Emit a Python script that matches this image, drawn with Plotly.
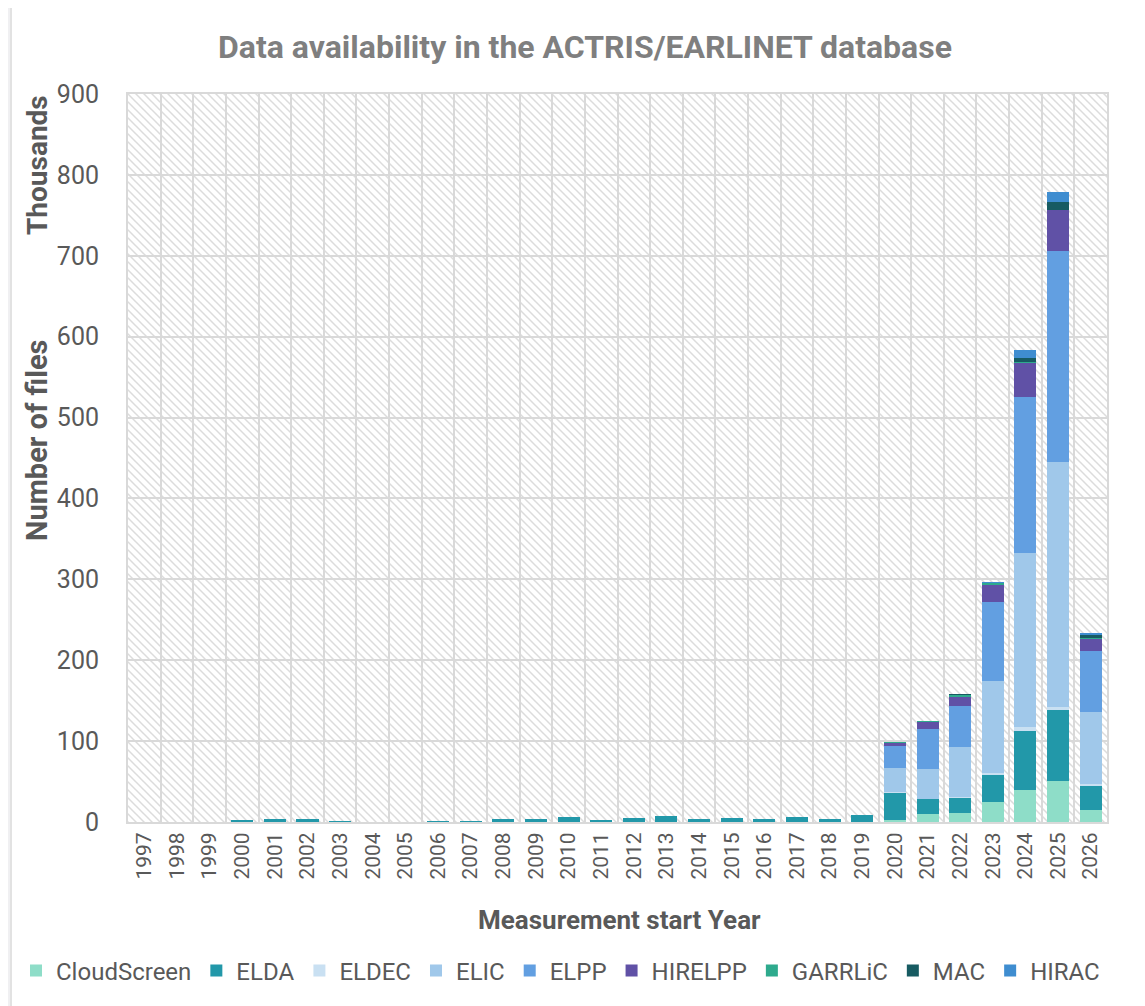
import base64
import plotly.graph_objects as go

years = ["1997", "1998", "1999", "2000", "2001", "2002", "2003", "2004", "2005", "2006",
         "2007", "2008", "2009", "2010", "2011", "2012", "2013", "2014", "2015", "2016",
         "2017", "2018", "2019", "2020", "2021", "2022", "2023", "2024", "2025", "2026"]

# values in thousands of files
cloudscreen = [0] * 23 + [3, 9.5, 11.5, 24.3, 39.5, 50.3, 14.8]
elda = [0, 0, 0, 1.5, 3.8, 3.8, 0.2, 0, 0, 0.3, 0.8, 3.3, 3.3, 6.6, 2.5, 5, 7, 3.3, 5, 4,
        6.6, 3.3, 8.6, 34, 19, 18.5, 34.7, 73.5, 88.5, 30.5]
eldec = [0] * 23 + [0.5, 0.5, 1, 1, 4, 3.7, 1.7]
elic = [0] * 23 + [29, 37, 62, 114.7, 215, 303, 89]
elpp = [0] * 23 + [27.5, 49, 50, 97.3, 193.7, 260.4, 75]
hirelpp = [0] * 23 + [4.5, 9, 11.5, 21.3, 42, 50.7, 15.7]
garrlic = [0] * 23 + [0.3, 0.5, 2.5, 2.5, 1.3, 0.3, 2]
mac = [0] * 23 + [0, 0, 0.5, 0.3, 5, 9, 2]
hirac = [0] * 23 + [0, 0, 0, 0.3, 9.4, 12.5, 2.7]

series = [
    ("CloudScreen", cloudscreen, "#8EDDC8"),
    ("ELDA", elda, "#2298A9"),
    ("ELDEC", eldec, "#C9E0F2"),
    ("ELIC", elic, "#A0C8EA"),
    ("ELPP", elpp, "#629FE1"),
    ("HIRELPP", hirelpp, "#6051A6"),
    ("GARRLiC", garrlic, "#2EAA8D"),
    ("MAC", mac, "#175B62"),
    ("HIRAC", hirac, "#3F8DD0"),
]

OFF = 8  # page body margin
W, H = 1145 - OFF, 1006 - OFF
ML, MR, MT, MB = 128 - OFF, 38, 94 - OFF, 184
PW, PH = W - ML - MR, H - MT - MB

fig = go.Figure()
for name, vals, col in series:
    fig.add_trace(go.Bar(x=years, y=vals, name=name, marker=dict(color=col, line=dict(width=0))))

svg = (
    f'<svg xmlns="http://www.w3.org/2000/svg" width="{PW}" height="{PH}">'
    '<defs><pattern id="h" width="8" height="8" patternUnits="userSpaceOnUse">'
    '<path d="M0,0 L8,8 M-2,6 L2,10 M6,-2 L10,2" stroke="#dcdcdc" stroke-width="1.5"/>'
    '</pattern></defs><rect width="100%" height="100%" fill="white"/>'
    '<rect width="100%" height="100%" fill="url(#h)"/></svg>'
)
uri = "data:image/svg+xml;base64," + base64.b64encode(svg.encode()).decode()

fig.add_layout_image(dict(source=uri, xref="paper", yref="paper", x=0, y=1, sizex=1, sizey=1,
                          sizing="stretch", xanchor="left", yanchor="top", layer="below"))

font_main = "Roboto, 'DejaVu Sans Condensed', sans-serif"
grey = "#595959"
grid = "#d9d9d9"

# helpers: page pixel -> paper coordinates
def px_x(p):
    return (p - OFF - ML) / PW

def px_y(p):
    return (H - MB - (p - OFF)) / PH

fig.update_layout(
    width=W, height=H,
    margin=dict(l=ML, r=MR, t=MT, b=MB, autoexpand=False),
    barmode="stack", bargap=0.325,
    paper_bgcolor="white", plot_bgcolor="rgba(0,0,0,0)",
    title=dict(text="<b>Data availability in the ACTRIS/EARLINET database</b>",
               x=(585 - OFF) / W, xanchor="center", y=1 - (47 - OFF) / H, yanchor="middle",
               font=dict(family="Roboto, sans-serif", size=32, color="#7f7f7f")),
    font=dict(family=font_main, color=grey),
    showlegend=True,
    legend=dict(orientation="h", x=px_x(16), xanchor="left", y=px_y(971), yanchor="middle",
                traceorder="normal", font=dict(size=24, color=grey, family=font_main),
                itemwidth=30, tracegroupgap=0, bgcolor="rgba(0,0,0,0)"),
    xaxis=dict(type="category", tickson="boundaries", showgrid=True, gridcolor=grid, gridwidth=2,
               tickangle=-90, tickfont=dict(size=21, color=grey), ticks="",
               showline=True, linecolor=grid, linewidth=2, mirror=True),
    yaxis=dict(range=[0, 900], dtick=100, showgrid=True, gridcolor=grid, gridwidth=2,
               tickfont=dict(size=25, color=grey), ticks="", ticklabelstandoff=22,
               showline=True, linecolor=grid, linewidth=2, mirror=True, zeroline=False),
    annotations=[
        dict(text="<b>Thousands</b>", xref="paper", yref="paper", x=px_x(37), y=px_y(165),
             xanchor="center", yanchor="middle",
             textangle=-90, showarrow=False, font=dict(size=28, color=grey, family=font_main)),
        dict(text="<b>Number of files</b>", xref="paper", yref="paper", x=px_x(37), y=px_y(440),
             xanchor="center", yanchor="middle",
             textangle=-90, showarrow=False, font=dict(size=29, color=grey, family=font_main)),
        dict(text="<b>Measurement start Year</b>", xref="paper", yref="paper", x=px_x(619),
             y=px_y(920), xanchor="center", yanchor="middle",
             showarrow=False, font=dict(size=26, color=grey, family=font_main)),
    ],
    shapes=[
        dict(type="rect", xref="paper", yref="paper", x0=px_x(8), x1=px_x(10), y0=px_y(1006), y1=px_y(0),
             fillcolor="#f0f0f2", line=dict(width=0), layer="below"),
        dict(type="line", xref="paper", yref="paper", x0=px_x(11), x1=px_x(11), y0=px_y(1006), y1=px_y(0),
             line=dict(color="#d9d9d9", width=1.5), layer="below"),
    ],
)

fig.write_html("out.html")
